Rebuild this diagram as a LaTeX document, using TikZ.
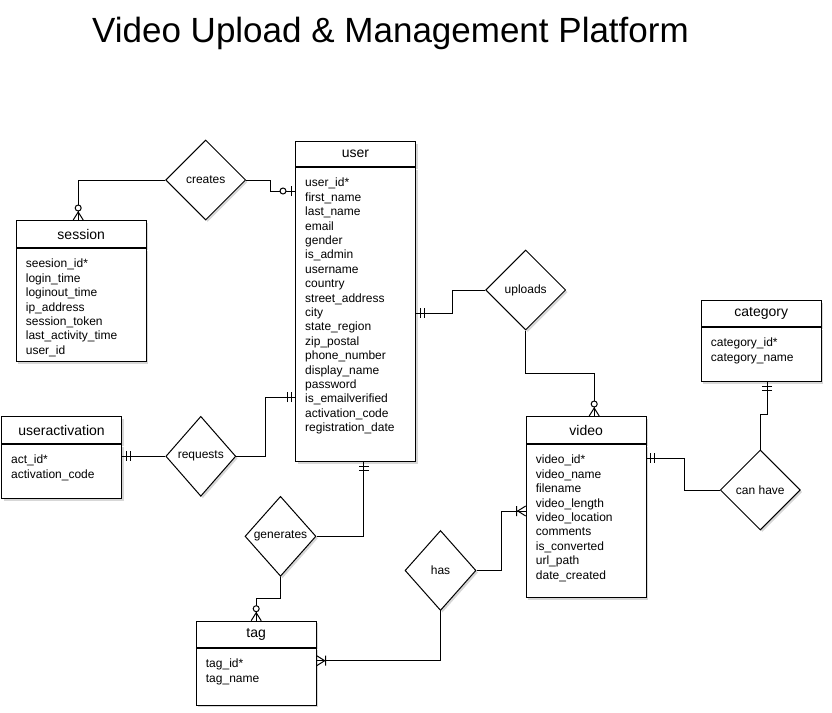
\documentclass[tikz,border=0pt]{standalone}
\usepackage{fontspec}
\setmainfont{Liberation Sans}
\usetikzlibrary{positioning,shapes.geometric,shadows}
\definecolor{ink}{HTML}{000000}
\definecolor{shade}{HTML}{8C8C8C}
\tikzset{
  boxshadow/.style={drop shadow={shadow xshift=2pt, shadow yshift=-2pt, fill=shade, opacity=0.35}},
  entity/.style={draw=ink, fill=white, line width=1pt, inner sep=0pt, minimum width=120pt,
    font=\fontsize{14}{16}\selectfont, boxshadow},
  attrbox/.style={entity},
  attrs/.style={inner sep=0pt, align=left, font=\fontsize{12}{14.4}\selectfont},
  rel/.style={diamond, draw=ink, fill=white, line width=1pt, inner sep=0pt,
    minimum width=80pt, minimum height=80pt, font=\fontsize{12}{14}\selectfont, boxshadow},
  link/.style={draw=ink, line width=1pt},
  heading/.style={font=\fontsize{35}{40}\selectfont},
  % cardinality marks, entity side at the origin, line along +x
  mone/.pic={\draw[link] (4,-5) -- (4,5) (8,-5) -- (8,5);},
  zone/.pic={\draw[link] (4,-5) -- (4,5); \draw[link, fill=white] (12,0) circle[radius=3pt];},
  zmany/.pic={\draw[link] (0,-5) -- (8,0) -- (0,5); \draw[link, fill=white] (12,0) circle[radius=3pt];},
  omany/.pic={\draw[link] (0,-5) -- (8,0) -- (0,5) (9,-5) -- (9,5);}
}

\begin{document}
\begin{tikzpicture}[x=1pt, y=-1pt]
  \useasboundingbox (0,0) rectangle (832,712);

  \node[heading] (title) at (390.5,33) {Video Upload \& Management Platform};

  % entities
  \node[entity, minimum width=130pt, minimum height=27pt, anchor=north west] (session) at (15.7,220) {session};
  \node[attrbox, minimum width=130pt, minimum height=113pt, below=0pt of session] (sessionbody) {};
  \node[attrs, anchor=north west] (sessionattrs) at ([shift={(10,11)}]sessionbody.north west)
    {seesion\_id*\\login\_time\\loginout\_time\\ip\_address\\session\_token\\last\_activity\_time\\user\_id};

  \node[entity, minimum height=25pt, anchor=north west] (user) at (295,141) {user};
  \node[attrbox, minimum height=294pt, below=0pt of user] (userbody) {};
  \node[attrs, anchor=north west] (userattrs) at ([shift={(10,11)}]userbody.north west)
    {user\_id*\\first\_name\\last\_name\\email\\gender\\is\_admin\\username\\country\\street\_address\\city\\state\_region\\zip\_postal\\phone\_number\\display\_name\\password\\is\_emailverified\\activation\_code\\registration\_date};

  \node[entity, minimum height=27pt, anchor=north west] (uact) at (1,416) {useractivation};
  \node[attrbox, minimum height=54pt, below=0pt of uact] (uactbody) {};
  \node[attrs, anchor=north west] (uactattrs) at ([shift={(10,11)}]uactbody.north west)
    {act\_id*\\activation\_code};

  \node[entity, minimum height=26pt, anchor=north west] (category) at (700.7,300) {category};
  \node[attrbox, minimum height=54pt, below=0pt of category] (categorybody) {};
  \node[attrs, anchor=north west] (categoryattrs) at ([shift={(10,11)}]categorybody.north west)
    {category\_id*\\category\_name};

  \node[entity, minimum height=27pt, anchor=north west] (video) at (525.7,416) {video};
  \node[attrbox, minimum height=153pt, below=0pt of video] (videobody) {};
  \node[attrs, anchor=north west] (videoattrs) at ([shift={(10,11)}]videobody.north west)
    {video\_id*\\video\_name\\filename\\video\_length\\video\_location\\comments\\is\_converted\\url\_path\\date\_created};

  \node[entity, minimum height=26pt, anchor=north west] (tag) at (195.7,620.7) {tag};
  \node[attrbox, minimum height=57pt, below=0pt of tag] (tagbody) {};
  \node[attrs, anchor=north west] (tagattrs) at ([shift={(10,11)}]tagbody.north west)
    {tag\_id*\\tag\_name};

  % relationships
  \node[rel] (creates) at (205.7,180) {creates};
  \node[rel, minimum width=70pt] (requests) at (200.8,456.3) {requests};
  \node[rel] (uploads) at (525.7,290) {uploads};
  \node[rel] (canhave) at (760.3,490) {can have};
  \node[rel, minimum width=71pt] (generates) at (280.5,536.3) {generates};
  \node[rel, minimum width=71pt] (has) at (440.5,570.5) {has};

  % attach points
  \coordinate (sessionTop) at ([xshift=-3pt]session.north);
  \coordinate (userW1) at ([yshift=-50pt]user.north west);
  \coordinate (userW2) at ([yshift=-256pt]user.north west);
  \coordinate (userE) at ([yshift=-172pt]user.north east);
  \coordinate (userS) at ([xshift=8pt]userbody.south);
  \coordinate (uactE) at (requests.west -| uactbody.east);
  \coordinate (videoTop) at ([xshift=8pt]video.north);
  \coordinate (videoE) at ([yshift=-42pt]video.north east);
  \coordinate (videoW) at ([yshift=-95pt]video.north west);
  \coordinate (categoryS) at ([xshift=6pt]categorybody.south);
  \coordinate (tagE) at ([yshift=-40pt]tag.north east);

  % connectors
  \draw[link] (creates.west) -| (sessionTop);
  \draw[link] (creates.east) -- ++(24,0) |- (userW1);
  \draw[link] (requests.west) -- (uactE);
  \draw[link] (requests.east) -- ++(29,0) |- (userW2);
  \draw[link] (userE) -- ++(36,0) |- (uploads.west);
  \draw[link] (uploads.south) -- ++(0,43) -| (videoTop);
  \draw[link] (videoE) -- ++(38,0) |- (canhave.west);
  \draw[link] (canhave.north) -- ++(0,-35) -| (categoryS);
  \draw[link] (userS) |- (generates.east);
  \draw[link] (generates.south) -- ++(0,22) -| (tag.north);
  \draw[link] (has.east) -- ++(25,0) |- (videoW);
  \draw[link] (has.south) |- (tagE);

  % cardinalities
  \pic[rotate=90] at (sessionTop) {zmany};
  \pic[rotate=180] at (userW1) {zone};
  \pic at (uactE) {mone};
  \pic[rotate=180] at (userW2) {mone};
  \pic at (userE) {mone};
  \pic[rotate=90] at (videoTop) {zmany};
  \pic at (videoE) {mone};
  \pic[rotate=-90] at (categoryS) {mone};
  \pic[rotate=-90] at (userS) {mone};
  \pic[rotate=90] at (tag.north) {zmany};
  \pic[rotate=180] at (videoW) {omany};
  \pic at (tagE) {omany};
\end{tikzpicture}
\end{document}
